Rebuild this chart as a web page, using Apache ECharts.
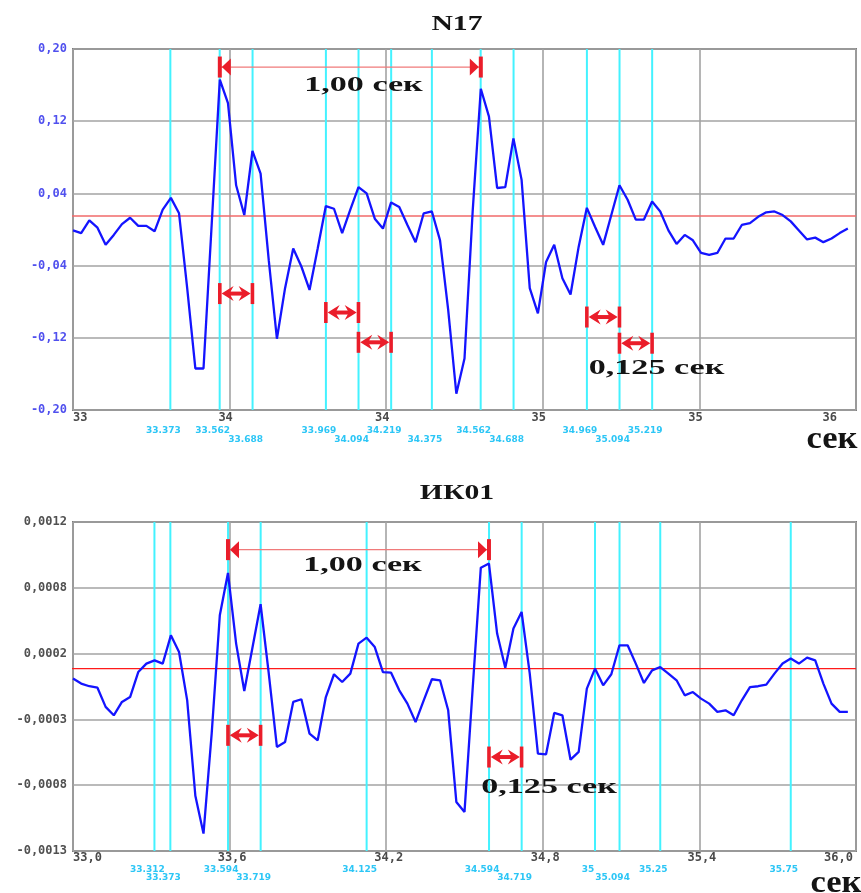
<!DOCTYPE html>
<html><head><meta charset="utf-8">
<script src="https://cdn.jsdelivr.net/npm/echarts@6/dist/echarts.min.js"></script>
<style>html,body{margin:0;padding:0;background:#fff}#c{width:861px;height:893px}</style>
</head><body><div id="c"></div>
<script>
// ---- sampling grid of the recorder (32 samples per second) ----
const sampleStart = 33;
const sampleStep = 1 / 32;

// ---- N17 (top) samples ----
const n17Values = [
  -0.001, -0.004, 0.010, 0.002, -0.017, -0.006, 0.006, 0.013, 0.004, 0.004,
  -0.002, 0.022, 0.035, 0.018, -0.065, -0.154, -0.154, 0.005, 0.166, 0.140,
  0.049, 0.016, 0.087, 0.062, -0.034, -0.121, -0.065, -0.021, -0.041, -0.067,
  -0.021, 0.026, 0.023, -0.004, 0.022, 0.047, 0.040, 0.012, 0.001, 0.030,
  0.025, 0.005, -0.014, 0.018, 0.020, -0.012, -0.089, -0.182, -0.143, 0.020,
  0.156, 0.125, 0.046, 0.047, 0.101, 0.055, -0.065, -0.093, -0.036, -0.017,
  -0.054, -0.072, -0.019, 0.024, 0.003, -0.017, 0.016, 0.049, 0.033, 0.011,
  0.011, 0.031, 0.020, -0.001, -0.016, -0.006, -0.012, -0.026, -0.028, -0.026,
  -0.010, -0.010, 0.005, 0.007, 0.014, 0.019, 0.020, 0.016, 0.009, -0.001,
  -0.011, -0.009, -0.014, -0.010, -0.004, 0.001
];

// ---- ИК01 (bottom) samples ----
const ik01Values = [
  0.000060, 0.000022, 0.000002, -0.000009, -0.000155, -0.000219, -0.000117, -0.000080, 0.000110, 0.000174,
  0.000199, 0.000174, 0.000389, 0.000262, -0.000105, -0.000830, -0.001118, -0.000360, 0.000541, 0.000863,
  0.000326, -0.000034, 0.000295, 0.000625, 0.000100, -0.000459, -0.000421, -0.000117, -0.000097, -0.000358,
  -0.000409, -0.000080, 0.000093, 0.000034, 0.000098, 0.000326, 0.000371, 0.000300, 0.000110, 0.000105,
  -0.000029, -0.000130, -0.000270, -0.000105, 0.000055, 0.000047, -0.000181, -0.000877, -0.000953, -0.000016,
  0.000903, 0.000934, 0.000402, 0.000143, 0.000440, 0.000566, 0.000098, -0.000510, -0.000515, -0.000201,
  -0.000219, -0.000556, -0.000497, -0.000016, 0.000136, 0.000009, 0.000093, 0.000313, 0.000313, 0.000174,
  0.000027, 0.000123, 0.000148, 0.000098, 0.000047, -0.000067, -0.000042, -0.000092, -0.000130, -0.000193,
  -0.000181, -0.000219, -0.000105, -0.000004, 0.000002, 0.000014, 0.000098, 0.000174, 0.000212, 0.000174,
  0.000219, 0.000199, 0.000022, -0.000130, -0.000193, -0.000193
];

// ---- axes ----
const xMin = 33, xMax = 36;
const xTicks = [33, 33.6, 34.2, 34.8, 35.4, 36];
const n17XTickLabels = ['33', '34', '34', '35', '35', '36'];
const ik01XTickLabels = ['33,0', '33,6', '34,2', '34,8', '35,4', '36,0'];
const n17YTicks = [-0.2, -0.12, -0.04, 0.04, 0.12, 0.2];
const n17YTickLabels = ['-0,20', '-0,12', '-0,04', '0,04', '0,12', '0,20'];
const ik01YTicks = [-0.00125, -0.00075, -0.00025, 0.00025, 0.00075, 0.00125];
const ik01YTickLabels = ['-0,0013', '-0,0008', '-0,0003', '0,0002', '0,0008', '0,0012'];

// ---- reference level (red line) ----
const n17Level = 0.015;
const ik01Level = 0.000136;

// ---- cyan time markers ----
const n17Markers = [33.373, 33.562, 33.688, 33.969, 34.094, 34.219, 34.375, 34.562, 34.688, 34.969, 35.094, 35.219];
const n17MarkerLabels = ['33.373', '33.562', '33.688', '33.969', '34.094', '34.219', '34.375', '34.562', '34.688', '34.969', '35.094', '35.219'];
const n17MarkerRows = [0, 0, 1, 0, 1, 0, 1, 0, 1, 0, 1, 0];
const ik01Markers = [33.312, 33.373, 33.594, 33.719, 34.125, 34.594, 34.719, 35, 35.094, 35.25, 35.75];
const ik01MarkerLabels = ['33.312', '33.373', '33.594', '33.719', '34.125', '34.594', '34.719', '35', '35.094', '35.25', '35.75'];
const ik01MarkerRows = [0, 1, 0, 1, 0, 0, 1, 0, 1, 0, 0];

// ---- dimension spans: [start, end, level, kind(1 = 1,00 s, 0 = 0,125 s)] ----
const n17Spans = [
  [33.5625, 34.5625, 0.180, 1],
  [33.5625, 33.6875, -0.071, 0],
  [33.96875, 34.09375, -0.092, 0],
  [34.09375, 34.21875, -0.125, 0],
  [34.96875, 35.09375, -0.097, 0],
  [35.09375, 35.21875, -0.126, 0]
];
const ik01Spans = [
  [33.59375, 34.59375, 0.00104, 1],
  [33.59375, 33.71875, -0.000371, 0],
  [34.59375, 34.71875, -0.000536, 0]
];

// ================= chart =================
const sampleTimes = n17Values.map((_, i) => sampleStart + i * sampleStep);
const gridColor = '#a3a3a3';
const labelFont = 'DejaVu Sans Mono';
const cyan = '#43f2ff';
const cyanText = '#2cc6f6';
const red = '#ea1d2a';

function pickLabel(ticks, labels, v) {
  let best = 0;
  for (let i = 1; i < ticks.length; i++) if (Math.abs(ticks[i] - v) < Math.abs(ticks[best] - v)) best = i;
  return labels[best];
}

function mainXAxis(gridIndex, labels, rich, margin) {
  return {
    type: 'value', gridIndex, min: xMin, max: xMax, position: 'bottom',
    axisLine: { show: false }, axisTick: { show: false, customValues: xTicks },
    splitLine: { show: true, lineStyle: { color: gridColor, width: 1.6 } },
    axisLabel: {
      customValues: xTicks, margin, color: '#4a4a4a', fontFamily: labelFont, fontWeight: 'bold', fontSize: 12,
      alignMinLabel: 'left', alignMaxLabel: 'right',
      formatter: v => {
        const i = xTicks.findIndex(t => Math.abs(t - v) < 1e-6);
        const key = i === 0 ? 'f' : (i === xTicks.length - 1 ? 'l' : 'm');
        return '{' + key + '|' + labels[i] + '}';
      },
      rich
    }
  };
}

function markerAxis(gridIndex, markers, markerLabels, rows, row, margin) {
  const vals = markers.filter((_, i) => rows[i] === row);
  return {
    type: 'value', gridIndex, min: xMin, max: xMax, position: 'bottom',
    axisLine: { show: false }, axisTick: { show: false, customValues: vals }, splitLine: { show: false },
    axisLabel: {
      customValues: vals, margin, color: cyanText, fontFamily: 'DejaVu Sans', fontWeight: 'bold', fontSize: 9,
      padding: [0, 14, 0, 0],
      showMinLabel: true, showMaxLabel: true,
      formatter: v => pickLabel(markers, markerLabels, v)
    }
  };
}

function yAxis(gridIndex, min, max, ticks, labels, color) {
  return {
    type: 'value', gridIndex, min, max,
    axisLine: { show: false }, axisTick: { show: false, customValues: ticks },
    splitLine: { show: true, lineStyle: { color: gridColor, width: 1.6 } },
    axisLabel: {
      customValues: ticks, margin: 6, color, fontFamily: labelFont, fontWeight: 'bold', fontSize: 12,
      padding: [0, 0, 6, 0],
      formatter: v => pickLabel(ticks, labels, v)
    }
  };
}

function cyanSeries(xi, yi, markers, yLo, yHi) {
  return {
    type: 'custom', xAxisIndex: xi, yAxisIndex: yi, silent: true, z: 1, clip: false,
    data: markers.map(t => [t, yLo]),
    encode: { x: 0, y: 1 },
    renderItem: (params, api) => {
      const a = api.coord([api.value(0), yHi]);
      const b = api.coord([api.value(0), yLo]);
      return { type: 'line', shape: { x1: a[0], y1: a[1], x2: b[0], y2: b[1] }, style: { stroke: cyan, lineWidth: 2 } };
    }
  };
}

function renderSpan(params, api) {
  const a = api.coord([api.value(0), api.value(2)]);
  const b = api.coord([api.value(1), api.value(2)]);
  const big = api.value(3) === 1;
  const y = a[1], xa = a[0], xb = b[0];
  const kids = [];
  if (big) {
    kids.push({ type: 'line', shape: { x1: xa, y1: y, x2: xb, y2: y }, style: { stroke: '#f07a7a', lineWidth: 1.3 } });
    [[xa, 1], [xb, -1]].forEach(([x, d]) => {
      kids.push({ type: 'rect', shape: { x: x - 2, y: y - 10.5, width: 4, height: 21 }, style: { fill: red } });
      kids.push({ type: 'polygon', shape: { points: [[x + d * 2, y], [x + d * 11, y - 8.5], [x + d * 11, y + 8.5]] }, style: { fill: red } });
    });
  } else {
    kids.push({ type: 'rect', shape: { x: Math.min(xa, xb) + 6, y: y - 2, width: Math.abs(xb - xa) - 12, height: 4 }, style: { fill: red } });
    [[xa, 1], [xb, -1]].forEach(([x, d]) => {
      kids.push({ type: 'rect', shape: { x: x - 1.8, y: y - 10.5, width: 3.6, height: 21 }, style: { fill: red } });
      const t = x + d * 1.8;
      kids.push({ type: 'polygon', shape: { points: [[t, y], [t + d * 12, y - 7.5], [t + d * 9, y - 2], [t + d * 9, y + 2], [t + d * 12, y + 7.5]] }, style: { fill: red } });
    });
  }
  return { type: 'group', children: kids };
}

function spanSeries(xi, yi, spans) {
  return {
    type: 'custom', xAxisIndex: xi, yAxisIndex: yi, silent: true, z: 5, clip: false,
    data: spans, encode: { x: [0, 1], y: 2 }, renderItem: renderSpan
  };
}

function levelSeries(xi, yi, level, color, width) {
  const overhang = 0.046;
  return {
    type: 'line', xAxisIndex: xi, yAxisIndex: yi, silent: true, z: 2, clip: false,
    data: [[xMin - overhang, level], [xMax, level]], showSymbol: false, symbol: 'none',
    lineStyle: { color, width }
  };
}

function signalSeries(xi, yi, values) {
  return {
    type: 'line', xAxisIndex: xi, yAxisIndex: yi, z: 3, silent: true,
    data: values.map((v, i) => [sampleTimes[i], v]), showSymbol: false, symbol: 'none',
    lineStyle: { color: '#1414ff', width: 2.3 }
  };
}

const richBase = { fontFamily: labelFont, fontWeight: 'bold', fontSize: 12, color: '#4a4a4a' };
const topRich = { f: { ...richBase }, m: { ...richBase, padding: [0, 8, 0, 0] }, l: { ...richBase, padding: [0, 19, 0, 0] } };
const botRich = { f: { ...richBase }, m: { ...richBase, padding: [0, 0, 0, 5] }, l: { ...richBase, padding: [0, 3, 0, 0] } };

const serif = '"Liberation Serif", "DejaVu Serif", serif';
function txt(text, x, y, size, scaleX) {
  return { type: 'text', x, y, scaleX, silent: true, z: 10,
    style: { text, fontFamily: serif, fontWeight: 'bold', fontSize: size, fill: '#141414', align: 'center', verticalAlign: 'middle' } };
}

const option = {
  animation: false,
  backgroundColor: '#ffffff',
  grid: [
    { left: 73, top: 49, width: 783, height: 361, show: true, borderColor: '#7d7d7d', borderWidth: 2, backgroundColor: 'transparent' },
    { left: 73, top: 522, width: 783, height: 329, show: true, borderColor: '#7d7d7d', borderWidth: 2, backgroundColor: 'transparent' }
  ],
  xAxis: [
    mainXAxis(0, n17XTickLabels, topRich, 2),
    markerAxis(0, n17Markers, n17MarkerLabels, n17MarkerRows, 0, 16),
    markerAxis(0, n17Markers, n17MarkerLabels, n17MarkerRows, 1, 25),
    mainXAxis(1, ik01XTickLabels, botRich, 1),
    markerAxis(1, ik01Markers, ik01MarkerLabels, ik01MarkerRows, 0, 14),
    markerAxis(1, ik01Markers, ik01MarkerLabels, ik01MarkerRows, 1, 22)
  ],
  yAxis: [
    yAxis(0, -0.2, 0.2, n17YTicks, n17YTickLabels, '#5050ee'),
    yAxis(1, -0.00125, 0.00125, ik01YTicks, ik01YTickLabels, '#505050')
  ],
  series: [
    cyanSeries(0, 0, n17Markers, -0.2, 0.2),
    levelSeries(0, 0, n17Level, '#f06a6a', 1.6),
    signalSeries(0, 0, n17Values),
    spanSeries(0, 0, n17Spans),
    cyanSeries(3, 1, ik01Markers, -0.00125, 0.00125),
    levelSeries(3, 1, ik01Level, '#ff1a1a', 1.3),
    signalSeries(3, 1, ik01Values),
    spanSeries(3, 1, ik01Spans)
  ],
  graphic: [
    txt('N17', 457, 24, 22, 1.35),
    txt('ИК01', 457, 493, 22, 1.35),
    txt('1,00 сек', 363.5, 85, 22, 1.55),
    txt('0,125 сек', 656.5, 368, 22, 1.55),
    txt('1,00 сек', 362.5, 565, 22, 1.55),
    txt('0,125 сек', 549, 787, 22, 1.55),
    txt('сек', 832, 440, 32, 1.08),
    txt('сек', 836, 884, 32, 1.08)
  ]
};

const chart = echarts.init(document.getElementById('c'), null, { renderer: 'canvas' });
chart.setOption(option);
</script>
</body></html>
